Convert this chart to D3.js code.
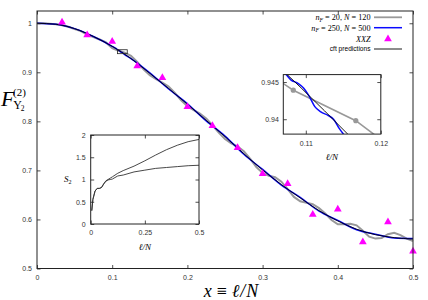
<!DOCTYPE html>
<html>
<head>
<meta charset="utf-8">
<script src="https://cdn.jsdelivr.net/npm/d3@7"></script>
<style>
body { margin: 0; background: #fff; }
svg { display: block; }
.tick text { font-family: "Liberation Sans", Arial, sans-serif; font-size: 7px; fill: #333; }
.tick line { stroke: #222; stroke-width: 0.8; }
</style>
</head>
<body>
<svg id="chart" width="428" height="300"></svg>
<script>
// cft prediction, x = l/N
var cftX = [0, 0.025, 0.05, 0.075, 0.1, 0.125, 0.15, 0.175, 0.2, 0.225, 0.25, 0.275, 0.3, 0.325, 0.35, 0.375, 0.4, 0.425, 0.45, 0.475, 0.5];
var cftY = [1.000, 0.998, 0.989, 0.973, 0.953, 0.928, 0.898, 0.867, 0.835, 0.802, 0.769, 0.734, 0.701, 0.671, 0.644, 0.618, 0.597, 0.580, 0.569, 0.563, 0.560];

// nF = 250, N = 500 (extra points round the zoomed box)
var blueX = [0, 0.025, 0.05, 0.075, 0.1, 0.107, 0.108, 0.109, 0.1097, 0.1105, 0.1112, 0.112, 0.113, 0.1137, 0.1145, 0.1155, 0.125, 0.15, 0.175, 0.2, 0.225, 0.25, 0.275, 0.3, 0.325, 0.35, 0.375, 0.4, 0.425, 0.45, 0.475, 0.5];
var blueY = [1.000, 0.998, 0.989, 0.973, 0.953, 0.9465, 0.9453, 0.9448, 0.9442, 0.9430, 0.9417, 0.9410, 0.9405, 0.9400, 0.9387, 0.9374, 0.928, 0.899, 0.866, 0.836, 0.801, 0.770, 0.733, 0.702, 0.670, 0.645, 0.617, 0.598, 0.579, 0.570, 0.562, 0.561];

// nF = 20, N = 120, one value per l = 0..60
var grayN = 120;
var grayY = [1.000, 1.000, 0.999, 0.998, 0.996, 0.993, 0.988, 0.984, 0.977, 0.972,
             0.967, 0.961, 0.9495, 0.9439, 0.9398, 0.9335, 0.921, 0.906, 0.894, 0.886,
             0.879, 0.871, 0.858, 0.843, 0.831, 0.823, 0.816, 0.806, 0.792, 0.777,
             0.764, 0.755, 0.749, 0.739, 0.724, 0.707, 0.695, 0.689, 0.686, 0.677,
             0.662, 0.646, 0.637, 0.634, 0.631, 0.623, 0.612, 0.599, 0.590, 0.590,
             0.591, 0.588, 0.577, 0.565, 0.561, 0.562, 0.570, 0.573, 0.568, 0.561,
             0.556];

// XXZ
var xxzX = [0.0333, 0.0667, 0.1, 0.1333, 0.1667, 0.2, 0.2333, 0.2667, 0.3, 0.3333, 0.3667, 0.4, 0.4333, 0.4667, 0.5];
var xxzY = [1.002, 0.976, 0.963, 0.913, 0.889, 0.830, 0.791, 0.746, 0.693, 0.673, 0.610, 0.621, 0.554, 0.595, 0.535];

// inset: S2 vs l/N
var s2X = [0.005, 0.01, 0.02, 0.03, 0.04, 0.05, 0.06, 0.07, 0.08, 0.09, 0.1, 0.125, 0.15, 0.2, 0.25, 0.3, 0.35, 0.4, 0.45, 0.5];
var s2Upper = [0.30, 0.55, 0.74, 0.80, 0.80, 0.82, 0.90, 0.97, 1.00, 1.03, 1.06, 1.14, 1.20, 1.30, 1.42, 1.55, 1.67, 1.77, 1.85, 1.90];
var s2Lower = [0.30, 0.55, 0.74, 0.80, 0.80, 0.82, 0.90, 0.96, 0.99, 1.00, 1.01, 1.08, 1.10, 1.17, 1.21, 1.25, 1.27, 1.29, 1.31, 1.32];

var xTicks = [0, 0.1, 0.2, 0.3, 0.4, 0.5];
var yTicks = [0.5, 0.6, 0.7, 0.8, 0.9, 1];

var serif = '"Liberation Serif", "DejaVu Serif", serif';
var sans = '"Liberation Sans", Arial, sans-serif';
var svg = d3.select("#chart");

var margin = { left: 37, right: 413, top: 11, bottom: 268.5 };
var x = d3.scaleLinear().domain([0, 0.5]).range([margin.left, margin.right]);
var y = d3.scaleLinear().domain([0.5, 1.025]).range([margin.bottom, margin.top]);

function zipPts(xs, ys) { return ys.map(function (v, i) { return [xs[i], v]; }); }
var grayPts = grayY.map(function (v, i) { return [i / grayN, v]; });

function drawCurves(g, sx, sy, grayW) {
    var lin = d3.line().x(function (d) { return sx(d[0]); }).y(function (d) { return sy(d[1]); });
    var smooth = d3.line().curve(d3.curveMonotoneX).x(function (d) { return sx(d[0]); }).y(function (d) { return sy(d[1]); });
    g.append("path").attr("d", lin(grayPts)).attr("fill", "none").attr("stroke", "#999").attr("stroke-width", grayW);
    g.append("path").attr("d", smooth(zipPts(blueX, blueY))).attr("fill", "none").attr("stroke", "#0a0aff").attr("stroke-width", 1.5);
    g.append("path").attr("d", smooth(zipPts(cftX, cftY))).attr("fill", "none").attr("stroke", "#000").attr("stroke-width", 0.9);
}

function frame(g, sx, sy, xt, yt, xf, yf, padX, padY) {
    g.append("g").attr("transform", "translate(0," + sy.range()[0] + ")")
        .call(d3.axisBottom(sx).tickValues(xt).tickSize(-3.5).tickPadding(padX).tickFormat(xf));
    g.append("g").attr("transform", "translate(" + sx.range()[0] + ",0)")
        .call(d3.axisLeft(sy).tickValues(yt).tickSize(-3.5).tickPadding(padY).tickFormat(yf));
    g.append("g").attr("transform", "translate(0," + sy.range()[1] + ")")
        .call(d3.axisTop(sx).tickValues(xt).tickSize(-3.5).tickFormat(""));
    g.append("g").attr("transform", "translate(" + sx.range()[1] + ",0)")
        .call(d3.axisRight(sy).tickValues(yt).tickSize(-3.5).tickFormat(""));
    g.selectAll(".domain").remove();
    g.append("rect")
        .attr("x", sx.range()[0]).attr("y", sy.range()[1])
        .attr("width", sx.range()[1] - sx.range()[0])
        .attr("height", sy.range()[0] - sy.range()[1])
        .attr("fill", "none").attr("stroke", "#222").attr("stroke-width", 1);
}

// main curves
var main = svg.append("g");
drawCurves(main, x, y, 2);

main.selectAll(".xxz").data(zipPts(xxzX, xxzY)).enter().append("path")
    .attr("d", d3.symbol().type(d3.symbolTriangle).size(26))
    .attr("transform", function (d) { return "translate(" + x(d[0]) + "," + y(d[1]) + ")"; })
    .attr("fill", "#ff00ff");

var fmt = function (d) { return String(d); };
frame(main, x, y, xTicks, yTicks, fmt, fmt, 7, 5);

// zoom inset (close view of the curves)
var zx = d3.scaleLinear().domain([0.107, 0.12]).range([283.3, 380.8]);
var zy = d3.scaleLinear().domain([0.938, 0.946]).range([134.1, 74.6]);

// small box in main plot marking the zoomed region
main.append("rect")
    .attr("x", x(zx.domain()[0])).attr("y", y(zy.domain()[1]))
    .attr("width", x(zx.domain()[1]) - x(zx.domain()[0]))
    .attr("height", y(zy.domain()[0]) - y(zy.domain()[1]))
    .attr("fill", "none").attr("stroke", "#222").attr("stroke-width", 0.8);

var ins1 = svg.append("g");
ins1.append("rect").attr("x", 283.3).attr("y", 74.6).attr("width", 97.5).attr("height", 59.5).attr("fill", "#fff");
svg.append("clipPath").attr("id", "clip1").append("rect")
    .attr("x", 283.3).attr("y", 74.6).attr("width", 97.5).attr("height", 59.5);
var ins1c = ins1.append("g").attr("clip-path", "url(#clip1)");
drawCurves(ins1c, zx, zy, 1.6);
ins1c.selectAll("circle").data(grayPts.filter(function (d) { return d[0] > 0.107 && d[0] < 0.12; }))
    .enter().append("circle")
    .attr("cx", function (d) { return zx(d[0]); }).attr("cy", function (d) { return zy(d[1]); })
    .attr("r", 2.6).attr("fill", "#999");
frame(ins1, zx, zy, [0.11, 0.12], [0.94, 0.945], fmt, fmt, 6.5, 4.5);
ins1.append("text").attr("x", 332).attr("y", 160).attr("text-anchor", "middle")
    .style("font-family", serif).style("font-style", "italic").style("font-size", "9px").text("\u2113/N");

// S2 inset
var sx = d3.scaleLinear().domain([0, 0.5]).range([90.7, 199]);
var sy = d3.scaleLinear().domain([0, 2]).range([224, 135]);
var ins2 = svg.append("g");
ins2.append("rect").attr("x", 90.7).attr("y", 135).attr("width", 108.3).attr("height", 89).attr("fill", "#fff");
var sline = d3.line().x(function (d) { return sx(d[0]); }).y(function (d) { return sy(d[1]); });
[s2Upper, s2Lower].forEach(function (s) {
    ins2.append("path").attr("d", sline(zipPts(s2X, s))).attr("fill", "none").attr("stroke", "#333").attr("stroke-width", 0.9);
});
frame(ins2, sx, sy, [0, 0.25, 0.5], [0, 0.5, 1, 1.5, 2], fmt, fmt, 6, 5);
ins2.append("text").attr("x", 145).attr("y", 250).attr("text-anchor", "middle")
    .style("font-family", serif).style("font-style", "italic").style("font-size", "9px").text("\u2113/N");
var s2lab = ins2.append("text").attr("x", 64).attr("y", 182).style("font-family", serif).style("font-size", "9px");
s2lab.append("tspan").style("font-style", "italic").text("S");
s2lab.append("tspan").attr("dy", 2).style("font-size", "6px").text("2");

// axis titles
var yl = svg.append("g").style("font-family", serif);
yl.append("text").attr("x", 1).attr("y", 106).style("font-style", "italic").style("font-size", "22px").text("F");
yl.append("text").attr("x", 13).attr("y", 95.5).style("font-size", "11px").text("(2)");
yl.append("text").attr("x", 13.3).attr("y", 109.3).style("font-size", "12px").text("\u03A5");
yl.append("text").attr("x", 20.8).attr("y", 111).style("font-size", "7.5px").text("2");

var xl = svg.append("text").attr("x", 231).attr("y", 296.5).attr("text-anchor", "middle")
    .style("font-family", serif).style("font-size", "18px");
xl.append("tspan").style("font-style", "italic").text("x");
xl.append("tspan").attr("dx", 5).text("\u2261");
xl.append("tspan").attr("dx", 5).style("font-style", "italic").text("\u2113");
xl.append("tspan").attr("dx", 1).style("font-style", "italic").text("/");
xl.append("tspan").attr("dx", 1).style("font-style", "italic").text("N");

// legend
var leg = svg.append("g");
var rows = [
    { y: 17.3, n: "20", N: "120", kind: "gray" },
    { y: 27.7, n: "250", N: "500", kind: "blue" },
    { y: 39, kind: "xxz" },
    { y: 49, kind: "cft" }
];
rows.forEach(function (r) {
    var t = leg.append("text").attr("x", 370.5).attr("y", r.y + 2.8).attr("text-anchor", "end")
        .style("font-family", serif).style("font-size", "8.2px");
    if (r.kind === "gray" || r.kind === "blue") {
        t.append("tspan").style("font-style", "italic").text("n");
        t.append("tspan").attr("dy", 1.8).style("font-style", "italic").style("font-size", "5.8px").text("F");
        t.append("tspan").attr("dy", -1.8).text(" = " + r.n + ", ");
        t.append("tspan").style("font-style", "italic").text("N");
        t.append("tspan").text(" = " + r.N);
        leg.append("line").attr("x1", 374).attr("x2", 402).attr("y1", r.y).attr("y2", r.y)
            .attr("stroke", r.kind === "gray" ? "#999" : "#0a0aff").attr("stroke-width", r.kind === "gray" ? 1.8 : 1.5);
    } else if (r.kind === "xxz") {
        t.style("font-style", "italic").text("XXZ");
        leg.append("path").attr("d", d3.symbol().type(d3.symbolTriangle).size(26))
            .attr("transform", "translate(388," + r.y + ")").attr("fill", "#ff00ff");
    } else {
        t.style("font-family", sans).style("font-size", "6.6px").attr("y", r.y + 2.3).text("cft predictions");
        leg.append("line").attr("x1", 374).attr("x2", 402).attr("y1", r.y).attr("y2", r.y)
            .attr("stroke", "#000").attr("stroke-width", 0.9);
    }
});
</script>
</body>
</html>
